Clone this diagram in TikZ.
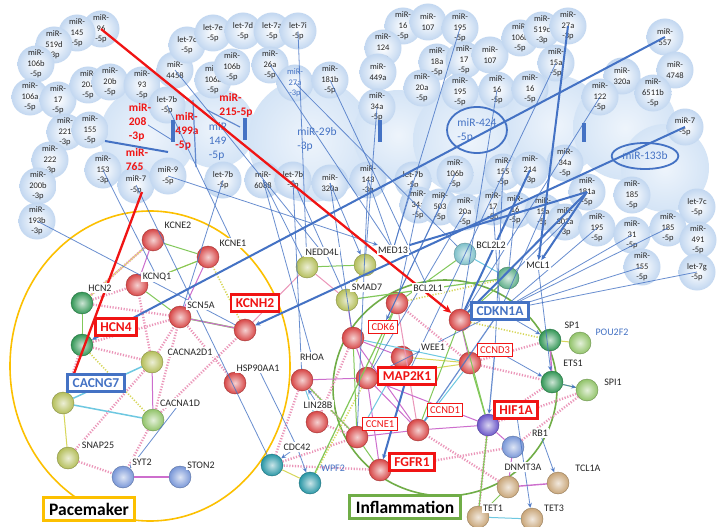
\documentclass[tikz,border=0pt]{standalone}
\usepackage{fontspec}
\setmainfont{Carlito}
\usetikzlibrary{arrows.meta,shapes.geometric}
\pgfdeclarelayer{fg}
\pgfsetlayers{main,fg}
\definecolor{bub}{RGB}{168,198,234}
\definecolor{blobc}{RGB}{212,228,246}
\definecolor{lb}{RGB}{68,114,196}
\definecolor{rd}{RGB}{240,20,20}
\definecolor{orng}{RGB}{252,192,0}
\definecolor{grn}{RGB}{112,173,71}
\definecolor{sp}{RGB}{205,110,205}
\definecolor{sg}{RGB}{130,200,90}
\definecolor{sy}{RGB}{215,215,90}
\definecolor{sc}{RGB}{110,200,225}
\definecolor{sk}{RGB}{235,150,185}
\definecolor{gred}{RGB}{215,70,70}
\definecolor{ggreen}{RGB}{50,150,85}
\definecolor{golive}{RGB}{180,190,90}
\definecolor{gblue}{RGB}{120,150,215}
\definecolor{gtan}{RGB}{200,165,120}
\definecolor{gteal}{RGB}{40,150,165}
\definecolor{gpurp}{RGB}{105,85,200}
\definecolor{glgreen}{RGB}{145,195,105}
\newcommand\mirf{\fontsize{8.5}{10.5}\selectfont}
\newcommand\genf{\fontsize{10}{11}\selectfont}
\newcommand\mirb[4]{\node[mir] (#1) at (#2,#3) {#4};}
\tikzset{
 mir/.style={circle, minimum size=37pt, inner sep=0pt, inner color=white, outer color=bub!70, align=center, font=\mirf, text=black!85},
 rmir/.style={align=left, font=\fontsize{11.5}{14}\selectfont\bfseries, text=rd, inner sep=0pt},
 bmir/.style={align=left, font=\fontsize{11.5}{14}\selectfont, text=lb, inner sep=0pt},
 gb/.style={circle, minimum size=22pt, inner sep=0pt, inner color=#1!25!white, outer color=#1, draw=#1!75!black, line width=0.4pt},
 glab/.style={fill=white, inner sep=1.5pt, font=\genf, text=black!85},
 rbox/.style={draw=rd, line width=2.6pt, fill=white, text=rd, font=\fontsize{13.5}{14}\selectfont\bfseries, inner xsep=5pt, inner ysep=4pt},
 bbox/.style={draw=lb, line width=2.6pt, fill=white, text=lb, font=\fontsize{13.5}{14}\selectfont\bfseries, inner xsep=5pt, inner ysep=4pt},
 sbox/.style={draw=rd, line width=1.2pt, fill=white, text=rd, font=\fontsize{10.5}{11}\selectfont, inner xsep=3pt, inner ysep=3pt},
 ml/.style={lb, line width=0.8pt, opacity=0.8},
 tl/.style={lb, line width=2pt},
 arr/.style={-{Stealth[length=5pt,width=4.5pt]}},
 rl/.style={rd, line width=2.3pt, -{Stealth[length=8pt,width=7pt]}},
 dl/.style={sk, line width=2.4pt, dash pattern=on 1.2pt off 1.6pt},
 dy/.style={sy, line width=1.6pt, dash pattern=on 1.2pt off 1.6pt},
 se/.style={line width=1pt},
 catbox/.style={fill=white, line width=3pt, font=\fontsize{17.5}{18}\selectfont\bfseries, inner xsep=6pt, inner ysep=5pt}
}
\begin{document}
\begin{tikzpicture}[x=1pt,y=-1pt]
\useasboundingbox (0,0) rectangle (726,527);
\fill[white] (0,0) rectangle (726,527);
% large pale blobs
\foreach \x/\y/\r in {148/135/48, 215/128/40, 310/140/62, 398/135/45, 468/140/55, 555/125/50, 625/128/52, 665/168/44}
  \shade[inner color=blobc!40, outer color=blobc] (\x,\y) circle (\r pt);
% miRNA bubbles
\mirb{m96}{101}{29}{miR-\\96\\-5p}
\mirb{m145}{77}{33}{miR-\\145\\-5p}
\mirb{m519d}{54}{45}{miR-\\519d\\-3p}
\mirb{m106bA}{36}{64}{miR-\\106b\\-5p}
\mirb{m106aA}{30}{97}{miR-\\106a\\-5p}
\mirb{m17A}{58}{100}{miR-\\17\\-5p}
\mirb{m20aA}{88}{85}{miR-\\20a\\-5p}
\mirb{m20b}{110}{82}{miR-\\20b\\-5p}
\mirb{m93}{142}{85}{miR-\\93\\-5p}
\mirb{m221}{65}{132}{miR-\\221\\-3p}
\mirb{m155A}{90}{130}{miR-\\155\\-5p}
\mirb{m222}{50}{160}{miR-\\222\\-3p}
\mirb{m200b}{38}{186}{miR-\\200b\\-3p}
\mirb{m193b}{37}{221}{miR-\\193b\\-3p}
\mirb{m153}{103}{170}{miR-\\153\\-3p}
\mirb{m7A}{136}{185}{miR-7\\-5p}
\mirb{m9}{168}{176}{miR-9\\-5p}
\mirb{l7bA}{167}{105}{let-7b\\-5p}
\mirb{m4458}{175}{70}{miR-\\4458}
\mirb{l7cA}{187}{45}{let-7c\\-5p}
\mirb{l7e}{213}{33}{let-7e\\-5p}
\mirb{l7d}{243}{31}{let-7d\\-5p}
\mirb{l7a}{272}{31}{let-7a\\-5p}
\mirb{l7i}{298}{31}{let-7i\\-5p}
\mirb{m106aB}{213}{80}{miR-\\106a\\-5p}
\mirb{m106bB}{232}{67}{miR-\\106b\\-5p}
\mirb{m26a}{270}{65}{miR-\\26a\\-5p}
\node[mir, text=lb] (m27aB) at (295,83) {miR-\\27a\\-3p};
\mirb{m181b}{330}{80}{miR-\\181b\\-5p}
\mirb{m16A}{403}{26}{miR-\\16\\-5p}
\mirb{m107A}{428}{22}{miR-\\107}
\mirb{m195A}{460}{28}{miR-\\195\\-5p}
\mirb{m124}{383}{48}{miR-\\124\\-3p}
\mirb{m449a}{378}{72}{miR-\\449a}
\mirb{m34aA}{377}{107}{miR-\\34a\\-5p}
\mirb{m18a}{437}{62}{miR-\\18a\\-5p}
\mirb{m17B}{464}{60}{miR-\\17\\-5p}
\mirb{m20aB}{422}{88}{miR-\\20a\\-5p}
\mirb{m195B}{460}{92}{miR-\\195\\-5p}
\mirb{m107B}{490}{55}{miR-\\107}
\mirb{m106bC}{520}{38}{miR-\\106b\\-5p}
\mirb{m519c}{542}{30}{miR-\\519c\\-3p}
\mirb{m27aC}{568}{26}{miR-\\27a\\-3p}
\mirb{m15aA}{556}{63}{miR-\\15a\\-5p}
\mirb{m16B}{497}{90}{miR-\\16\\-5p}
\mirb{m16C}{530}{89}{miR-\\16\\-5p}
\mirb{m320aA}{622}{76}{miR-\\320a}
\mirb{m122}{600}{97}{miR-\\122\\-5p}
\mirb{m557}{665}{37}{miR-\\557}
\mirb{m4748}{675}{70}{miR-\\4748}
\mirb{m6511b}{653}{93}{miR-\\6511b\\-5p}
\mirb{m7B}{685}{127}{miR-7\\-5p}
\mirb{m155B}{503}{172}{miR-\\155\\-5p}
\mirb{m214}{530}{170}{miR-\\214\\-3p}
\mirb{m34aB}{565}{163}{miR-\\34a\\-5p}
\mirb{m143}{368}{180}{miR-\\143\\-3p}
\mirb{l7bD}{413}{180}{let-7b\\-5p}
\mirb{m106bD}{455}{174}{miR-\\106b\\-5p}
\mirb{m181a}{587}{192}{miR-\\181a\\-5p}
\mirb{m185A}{632}{195}{miR-\\185\\-5p}
\mirb{l7cB}{697}{207}{let-7c\\-5p}
\mirb{m34aC}{418}{205}{miR-\\34a\\-5p}
\mirb{m503}{440}{207}{miR-\\503\\-5p}
\mirb{m20aC}{465}{212}{miR-\\20a\\-5p}
\mirb{m17C}{493}{207}{miR-\\17\\-5p}
\mirb{m16D}{515}{210}{miR-\\16\\-5p}
\mirb{m15aB}{543}{212}{miR-\\15a\\-5p}
\mirb{m302a}{565}{222}{miR-\\302a\\-3p}
\mirb{m195C}{597}{228}{miR-\\195\\-5p}
\mirb{m31}{632}{235}{miR-\\31\\-5p}
\mirb{m185B}{668}{228}{miR-\\185\\-5p}
\mirb{m491}{698}{240}{miR-\\491\\-5p}
\mirb{m155C}{642}{267}{miR-\\155\\-5p}
\mirb{l7g}{697}{272}{let-7g\\-5p}
\mirb{l7bB}{223}{180}{let-7b\\-5p}
\mirb{m6088}{263}{180}{miR-\\6088}
\mirb{l7bC}{293}{180}{let-7b\\-5p}
\mirb{m320aB}{330}{183}{miR-\\320a}
% texts on blobs
\node[rmir] (m208) at (140,122) {miR-\\208\\-3p};
\node[rmir] (m765) at (137,160) {miR-\\765};
\node[rmir] (m499a) at (187,131) {miR-\\499a\\-5p};
\node[rmir] (m215) at (236,105) {miR-\\215-5p};
\node[bmir] (m149) at (218,141) {miR\\149\\-5p};
\node[bmir] (m29b) at (317,139) {miR-29b\\-3p};
\node[bmir, draw=lb, line width=1.8pt, ellipse, minimum width=60pt, minimum height=46pt, inner sep=1pt] (m424) at (477,130) {miR-424\\-5p};
\node[bmir, draw=lb, line width=1.8pt, ellipse, minimum width=55pt, minimum height=26pt, inner sep=1pt] (m133b) at (645,156) {miR-133b};
% bars and internal segments
\foreach \x/\a/\b in {173/120/142, 245/118/140, 380/120/142, 584/123/142}
  \draw[lb, line width=4pt] (\x,\a) -- (\x,\b);
\draw[tl] (105,141) -- (168,152);
\draw[ml] (148,125) -- (172,140);
\draw[ml, line width=1.2pt] (193,100) -- (196,167);
\draw[ml, line width=1.2pt] (207,110) -- (240,127);
% ellipses of groups
\draw[orng, line width=1.6pt] (150,366) ellipse (140pt and 155pt);
\draw[grn, line width=1.6pt] (445,388) ellipse (112pt and 108pt);
% gene nodes - pacemaker
\node[gb=gred] (kcne2) at (153,240) {};
\node[gb=gred] (kcne1) at (208,257) {};
\node[gb=gred] (kcnq1) at (137,285) {};
\node[gb=ggreen] (hcn2) at (82,303) {};
\node[gb=gred] (scn5a) at (180,317) {};
\node[gb=ggreen] (hcn4n) at (82,345) {};
\node[gb=gred] (kcnh2n) at (245,330) {};
\node[gb=golive] (cacna2d1) at (152,362) {};
\node[gb=golive] (cacng7n) at (63,403) {};
\node[gb=glgreen] (cacna1d) at (153,420) {};
\node[gb=golive] (snap25) at (68,458) {};
\node[gb=gblue] (syt2) at (123,477) {};
\node[gb=gblue] (ston2) at (180,477) {};
\node[gb=gred] (hsp) at (235,383) {};
% gene nodes - inflammation
\node[gb=golive] (nedd4l) at (307,267) {};
\node[gb=golive] (smad7a) at (365,265) {};
\node[gb=golive] (smad7b) at (347,300) {};
\node[gb=gred] (bcl2l1) at (397,303) {};
\node[gb=gteal!60!white] (bcl2l2) at (465,254) {};
\node[gb=gteal!50!glgreen] (mcl1) at (508,278) {};
\node[gb=gred] (cdkn1a) at (460,320) {};
\node[gb=gred] (cdk6) at (353,338) {};
\node[gb=gred] (wee1) at (402,357) {};
\node[gb=gred] (ccnd3) at (470,363) {};
\node[gb=gred] (map2k1) at (367,378) {};
\node[gb=gred] (rhoa) at (302,380) {};
\node[gb=gred] (lin28b) at (317,422) {};
\node[gb=gred] (ccnd1) at (418,430) {};
\node[gb=gred] (ccne1) at (357,437) {};
\node[gb=gpurp] (hif1a) at (488,425) {};
\node[gb=gred] (fgfr1) at (380,470) {};
\node[gb=gteal] (cdc42) at (272,465) {};
\node[gb=gteal] (wpf2n) at (310,483) {};
\node[gb=ggreen] (sp1a) at (550,340) {};
\node[gb=glgreen] (sp1b) at (580,343) {};
\node[gb=ggreen] (ets1) at (552,382) {};
\node[gb=glgreen] (spi1) at (587,390) {};
\node[gb=gblue] (rb1) at (513,447) {};
\node[gb=gtan] (dnmt3a) at (508,487) {};
\node[gb=gtan] (tcl1a) at (558,483) {};
\node[gb=gtan] (tet1) at (478,517) {};
\node[gb=gtan] (tet3) at (532,519) {};
% labels and boxes on the foreground layer
\begin{pgfonlayer}{fg}
\node[glab] (lkcne2) at (178,225) {KCNE2};
\node[glab] (lkcne1) at (233,243) {KCNE1};
\node[glab] (lkcnq1) at (157,277) {KCNQ1};
\node[glab] (lhcn2) at (100,288) {HCN2};
\node[glab] (lscn5a) at (201,305) {SCN5A};
\node[glab] (lcacna2d1) at (190,352) {CACNA2D1};
\node[glab] (lcacna1d) at (180,403) {CACNA1D};
\node[glab] (lsnap25) at (98,445) {SNAP25};
\node[glab] (lsyt2) at (142,462) {SYT2};
\node[glab] (lston2) at (201,465) {STON2};
\node[glab] (lhsp) at (258,368) {HSP90AA1};
\node[glab] (lnedd4l) at (322,252) {NEDD4L};
\node[glab] (lmed13) at (393,250) {MED13};
\node[glab] (lsmad7) at (367,287) {SMAD7};
\node[glab] (lbcl2l1) at (428,288) {BCL2L1};
\node[glab] (lbcl2l2) at (491,245) {BCL2L2};
\node[glab] (lmcl1) at (538,265) {MCL1};
\node[glab] (lwee1) at (433,347) {WEE1};
\node[glab] (lrhoa) at (312,357) {RHOA};
\node[glab] (llin28b) at (318,405) {LIN28B};
\node[glab] (lcdc42) at (297,447) {CDC42};
\node[glab] (lsp1) at (572,325) {SP1};
\node[glab] (lets1) at (573,363) {ETS1};
\node[glab] (lspi1) at (613,382) {SPI1};
\node[glab] (lrb1) at (540,433) {RB1};
\node[glab] (ldnmt3a) at (523,467) {DNMT3A};
\node[glab] (ltcl1a) at (588,468) {TCL1A};
\node[glab] (ltet1) at (493,508) {TET1};
\node[glab] (ltet3) at (554,508) {TET3};
\node[font=\genf, text=lb] (lpou2f2) at (612,332) {POU2F2};
\node[font=\genf, text=lb] (lwpf2) at (333,468) {WPF2};
\node[rbox] (lhcn4) at (116,327) {HCN4};
\node[rbox] (lkcnh2) at (255,303) {KCNH2};
\node[bbox] (lcacng7) at (96,383) {CACNG7};
\node[bbox] (lcdkn1a) at (500,311) {CDKN1A};
\node[rbox] (lmap2k1) at (407,376) {MAP2K1};
\node[rbox] (lhif1a) at (516,410) {HIF1A};
\node[rbox] (lfgfr1) at (412,462) {FGFR1};
\node[sbox] (lcdk6) at (383,327) {CDK6};
\node[sbox] (lccnd3) at (495,350) {CCND3};
\node[sbox] (lccnd1) at (445,410) {CCND1};
\node[sbox] (lccne1) at (380,424) {CCNE1};
\node[catbox, draw=orng] (pace) at (89,509) {Pacemaker};
\node[catbox, draw=grn] (infl) at (405,507) {Inflammation};
\end{pgfonlayer}
% string edges pacemaker
\draw[dl] (hcn2) -- (kcnq1); \draw[dl] (hcn2) -- (scn5a); \draw[dl] (hcn4n) -- (scn5a);
\draw[dl] (hcn4n) -- (cacna2d1); \draw[dl] (cacna2d1) -- (scn5a); \draw[dl] (cacna1d) -- (scn5a);
\draw[dl] (cacna2d1) -- (kcnq1); \draw[dl] (snap25) -- (syt2); \draw[dl] (snap25) -- (cacna2d1);
\draw[dl] (cacna1d) -- (syt2); \draw[dl] (hcn4n) -- (cacng7n); \draw[dl] (kcne2) -- (hcn2);
\draw[dl] (hsp) -- (scn5a); \draw[dy] (kcnh2n) -- (kcne1); \draw[dy] (hcn2) -- (kcne2);
\draw[dl] (cacna1d) -- (kcnh2n); \draw[dy] (hcn4n) -- (cacna1d);
\draw[sp, se] (kcne2) -- (kcnq1); \draw[sg, se] (kcne2) -- (kcne1); \draw[sy, se] (kcne1) -- (kcnq1);
\draw[sg, se] (kcnq1) -- (scn5a); \draw[sp, se] (kcne1) -- (scn5a); \draw[sg, line width=1.6pt] (scn5a) -- (kcnh2n);
\draw[sp, se] (scn5a) -- (kcnh2n); \draw[sc, line width=1.5pt] (cacna2d1) -- (cacng7n); \draw[sp, se] (cacna2d1) -- (cacna1d);
\draw[sc, line width=1.5pt] (cacng7n) -- (cacna1d); \draw[sy, se] (cacng7n) -- (snap25); \draw[sp, line width=1.4pt] (syt2) -- (ston2);
\draw[sg, se] (hcn4n) -- (hcn2); \draw[sk, se] (kcnh2n) -- (nedd4l); \draw[sg, se] (kcnq1) -- (kcne1);
% string edges inflammation
\draw[dl] (lin28b) -- (ccne1); \draw[dl] (rhoa) -- (ccne1); \draw[dl] (cdc42) -- (ccne1);
\draw[dl] (fgfr1) -- (cdc42); \draw[dl] (hif1a) -- (ets1); \draw[dl] (hif1a) -- (spi1);
\draw[dl] (ccnd3) -- (ets1); \draw[dl] (rb1) -- (spi1); \draw[dl] (dnmt3a) -- (ccnd1);
\draw[dl] (cdk6) -- (lin28b); \draw[dl] (rhoa) -- (cdc42); \draw[dl] (ccnd3) -- (sp1a);
\draw[dl] (hif1a) -- (tet1); \draw[dy] (map2k1) -- (wpf2n); \draw[dy] (bcl2l1) -- (mcl1);
\draw[dl] (bcl2l1) -- (ccnd3); \draw[dy] (cdkn1a) -- (sp1a); \draw[dl] (fgfr1) -- (rb1);
\draw[sk, se] (nedd4l) -- (smad7b); \draw[sg, se] (nedd4l) -- (smad7a); \draw[sy, se] (smad7a) -- (smad7b);
\draw[sp, se] (smad7b) -- (cdk6); \draw[sg, se] (bcl2l1) -- (map2k1); \draw[sp, se] (cdk6) -- (map2k1);
\draw[sg, se] (cdk6) -- (ccne1); \draw[sp, se] (ccne1) -- (ccnd1); \draw[sc, se] (ccnd1) -- (ccnd3);
\draw[sp, se] (ccnd3) -- (cdkn1a); \draw[sg, se] (cdkn1a) -- (hif1a); \draw[sp, se] (map2k1) -- (fgfr1);
\draw[sp, se] (map2k1) -- (rhoa); \draw[sc, se] (rhoa) -- (lin28b); \draw[sy, se] (cdc42) -- (wpf2n);
\draw[sg, se] (ccne1) -- (fgfr1); \draw[sp, se] (ccnd1) -- (hif1a); \draw[sp, se] (hif1a) -- (rb1);
\draw[sp, se] (rb1) -- (dnmt3a); \draw[sp, line width=1.4pt] (dnmt3a) -- (tcl1a); \draw[sg, se] (dnmt3a) -- (tet1);
\draw[sc, se] (tet3) -- (tet1); \draw[sp, line width=1.4pt] (sp1a) -- (ets1); \draw[sg, se] (ets1) -- (spi1);
\draw[sy, se] (sp1a) -- (sp1b); \draw[sc, se] (bcl2l2) -- (mcl1); \draw[sg, se] (bcl2l1) -- (bcl2l2);
\draw[sg, se] (mcl1) -- (cdkn1a); \draw[sp, se] (map2k1) -- (ccnd1); \draw[sy, se] (map2k1) -- (ccnd3);
\draw[sc, se] (cdk6) -- (ccnd3); \draw[sp, se] (cdk6) -- (ccnd1); \draw[sg, se] (rhoa) -- (ccne1);
\draw[sk, se] (bcl2l1) -- (ccnd1); \draw[sp, se] (wee1) -- (cdk6); \draw[sy, se] (wee1) -- (ccnd3);
\draw[sg, line width=1.2pt] (bcl2l1) -- (wpf2n); \draw[sg, line width=1.2pt] (hif1a) -- (tet1);
\draw[sg, line width=1.2pt] (ccnd3) -- (hif1a); \draw[sg, line width=1.2pt] (smad7b) -- (mcl1);
\draw[sp, se] (map2k1) -- (hif1a); \draw[sc, se] (wee1) -- (ccne1); \draw[sg, se] (cdkn1a) -- (ccnd1);
% miRNA -> gene lines (thin)
\draw[ml] (m153.center) -- (lkcnq1);
\draw[ml] (m193b.center) -- (kcnh2n);
\draw[ml, arr] (m9.center) -- (lmed13);
\draw[ml] (l7bB.center) -- (scn5a);
\draw[ml] (m7A.center) -- (cdc42);
\draw[ml] (m6088.center) -- (nedd4l);
\draw[ml] (m6088.center) -- (lrhoa);
\draw[ml] (l7bC.center) -- (smad7b);
\draw[ml] (l7bC.center) -- (rhoa);
\draw[ml, arr] (m320aB.center) -- (smad7a);
\draw[ml] (m320aB.center) -- (cdk6);
\draw[ml] (m143.center) -- (lmed13);
\draw[ml] (m143.center) -- (ccne1);
\draw[ml] (m26a.center) -- (lmed13);
\draw[ml] (m27aB.center) -- (bcl2l2);
\draw[ml] (l7i.center) -- (nedd4l);
\draw[ml] (m181b.center) -- (lbcl2l1);
\draw[ml] (m195A.center) -- (lmed13);
\draw[ml] (l7bD.center) -- (lmed13);
\draw[ml] (m34aC.center) -- (bcl2l1);
\draw[ml, arr] (m503.center) -- (lcdk6);
\draw[ml] (m20aC.center) -- (map2k1);
\draw[ml] (m15aA.center) -- (lmap2k1);
\draw[ml] (m122.center) -- (cdkn1a);
\draw[ml] (m16B.center) -- (cdkn1a);
\draw[ml] (m195C.center) -- (lcdkn1a);
\draw[ml] (m185B.center) -- (lcdkn1a);
\draw[ml] (m155C.center) -- (lcdkn1a);
\draw[ml] (l7g.center) -- (lcdkn1a);
\draw[ml] (m31.center) -- (lcdkn1a);
\draw[ml] (m302a.center) -- (mcl1);
\draw[ml] (m155B.center) -- (lccnd3);
\draw[ml] (m106bD.center) -- (lcdk6);
\draw[ml] (m34aA.center) -- (smad7a);
\draw[ml] (l7bA.center) -- (lkcne1);
\draw[ml] (m4458.center) -- (lnedd4l);
\draw[ml] (m17C.center) -- (lcdkn1a);
\draw[ml] (m16D.center) -- (mcl1);
\draw[ml] (m15aB.center) -- (lcdkn1a);
% cluster blue lines
\draw[ml, arr] (lmcl1) -- (ets1);
\draw[ml, arr] (lcdkn1a) -- (sp1a);
\draw[ml, arr] (lccnd3) -- (ets1);
\draw[ml, arr, line width=1.2pt] (lccnd3) -- (hif1a);
\draw[ml, arr] (lhif1a) -- (tet3);
\draw[ml, arr] (lrb1) -- (tcl1a);
\draw[ml, arr] (ets1) -- (spi1);
\draw[tl, arr] (lmap2k1) -- (fgfr1);
\draw[ml, arr] (llin28b) -- (rhoa);
\draw[ml, arr] (lcdc42) -- (cdc42);
\draw[ml, arr] (lcdc42) -- (wpf2n);
\draw[ml] (lhsp) -- (lcdc42);
\draw[ml, arr] (lcacna1d) -- (syt2);
\draw[ml] (lcdkn1a) -- (map2k1);
\draw[ml, line width=1.2pt] (lcdkn1a) -- (ccnd1);
% thick miRNA lines
\draw[tl, arr] (m557.center) -- (hcn4n);
\draw[tl, arr] (m7B.center) -- (kcnh2n);
\draw[tl, arr] (m27aC.center) -- (lmcl1);
\draw[tl, arr] (m181a.center) -- (lmcl1);
\draw[tl] (m181a.center) -- (lmed13);
\draw[tl] (m181a.center) -- (cdkn1a);
\draw[tl] (m214.center) -- (cdkn1a);
% red lines
\coordinate (r2s) at (142,192);
\draw[rl] (m96.center) -- (cdkn1a);
\draw[rl] (r2s) -- (cacng7n);
\end{tikzpicture}
\end{document}
